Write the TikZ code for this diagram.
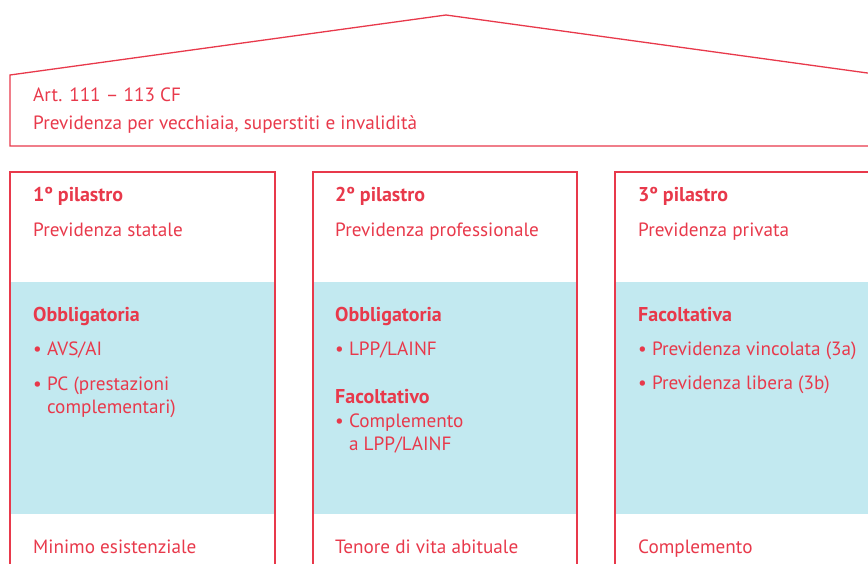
\documentclass[tikz,border=0pt]{standalone}
\usepackage{fontspec}
\setmainfont{PT Sans}
\usetikzlibrary{positioning}

\definecolor{pilred}{HTML}{E8394B}
\definecolor{pilblue}{HTML}{C2E9F0}

\begin{document}
\begin{tikzpicture}[x=1pt,y=-1pt,
  txt/.style={anchor=base west,inner sep=0pt,text=pilred,font=\fontsize{19.2}{23}\selectfont},
  hd/.style={txt,font=\fontsize{20}{23}\selectfont\bfseries},
  wall/.style={draw=pilred,line width=1.3pt}]
\useasboundingbox (0,0) rectangle (868,563);
% roof
\draw[wall,line join=miter] (10,146) -- (10,75) -- (446,15) -- (882,75) -- (882,146) -- cycle;
\node[txt] (art) at (33,101) {Art. 111 – 113 CF};
\node[txt] (prev) at (33,129) {Previdenza per vecchiaia, superstiti e invalidità};
% blue bands
\fill[pilblue] (10,282) rectangle (275,514);
\fill[pilblue] (313,282) rectangle (577,514);
\fill[pilblue] (615,282) rectangle (880,514);
% pillars
\draw[wall] (10,580) -- (10,172) -- (275,172) -- (275,580);
\draw[wall] (313,580) -- (313,172) -- (577,172) -- (577,580);
\draw[wall] (615,580) -- (615,172) -- (880,172) -- (880,580);
% 1st pillar
\node[hd] (pa) at (33,201) {1º pilastro};
\node[txt] (pa1) at (33,236) {Previdenza statale};
\node[hd] (pa2) at (33,321) {Obbligatoria};
\node[txt] (pa3) at (33,355) {• AVS/AI};
\node[txt] (pa4) at (33,390) {• PC (prestazioni};
\node[txt] (pa5) at (33,413) {\hphantom{•\ }complementari)};
\node[txt] (pa6) at (33,553) {Minimo esistenziale};
% 2nd pillar
\node[hd] (pb) at (335,201) {2º pilastro};
\node[txt] (pb1) at (335,236) {Previdenza professionale};
\node[hd] (pb2) at (335,321) {Obbligatoria};
\node[txt] (pb3) at (335,355) {• LPP/LAINF};
\node[hd] (pb4) at (335,403) {Facoltativo};
\node[txt] (pb5) at (335,427) {• Complemento};
\node[txt] (pb6) at (335,450) {\hphantom{•\ }a LPP/LAINF};
\node[txt] (pb7) at (335,553) {Tenore di vita abituale};
% 3rd pillar
\node[hd] (pc) at (638,201) {3º pilastro};
\node[txt] (pc1) at (638,236) {Previdenza privata};
\node[hd] (pc2) at (638,321) {Facoltativa};
\node[txt] (pc3) at (638,355) {• Previdenza vincolata (3a)};
\node[txt] (pc4) at (638,389) {• Previdenza libera (3b)};
\node[txt] (pc5) at (638,553) {Complemento};
\end{tikzpicture}
\end{document}
